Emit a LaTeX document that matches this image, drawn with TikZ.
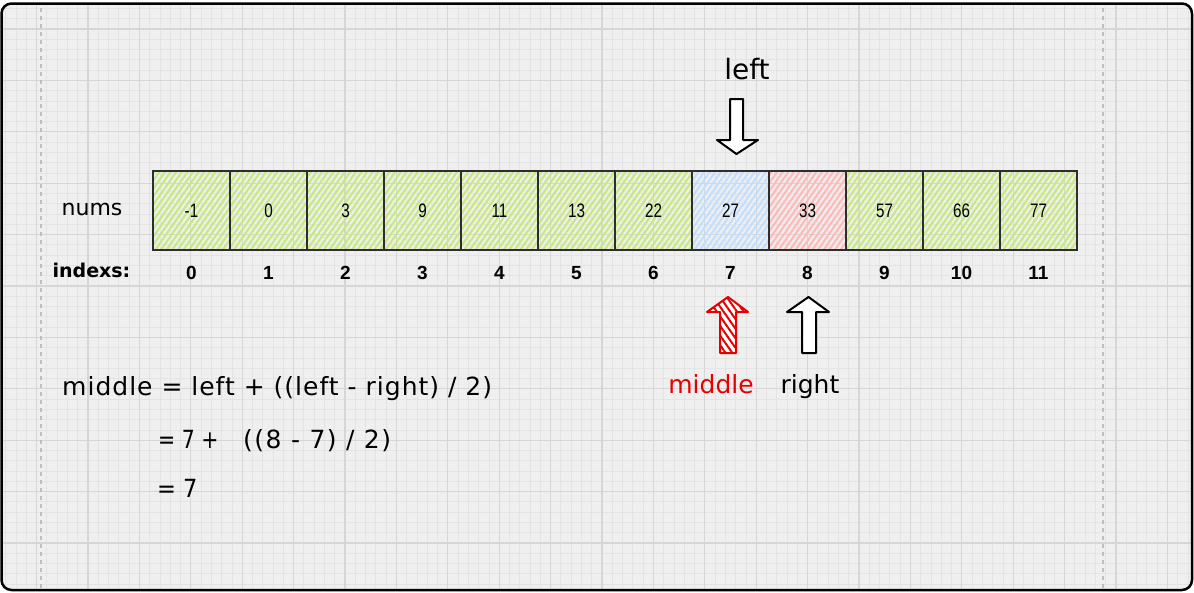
\documentclass[tikz,border=0pt]{standalone}
\usepackage{fontspec}
\setmainfont{Liberation Sans}
\newfontfamily\comic{DejaVu Sans}
\newfontfamily\comicA[LetterSpace=4]{DejaVu Sans}
\newfontfamily\comicB[LetterSpace=6]{DejaVu Sans}
\newfontfamily\narrowsf[FakeStretch=0.78]{Liberation Sans}
\usetikzlibrary{patterns.meta}
\definecolor{bgc}{RGB}{239,239,239}
\definecolor{minorc}{RGB}{228,228,228}
\definecolor{majorc}{RGB}{214,214,214}
\definecolor{pagec}{RGB}{190,190,190}
\definecolor{edgec}{RGB}{45,45,45}
\definecolor{gfill}{RGB}{198,234,125}
\definecolor{bfill}{RGB}{195,222,255}
\definecolor{rfill}{RGB}{255,185,185}
\definecolor{redc}{RGB}{230,0,0}
\tikzset{
  cell/.style={draw=edgec, line width=2.3pt, minimum width=77pt, minimum height=79pt,
    inner sep=0pt, outer sep=0pt, font=\narrowsf\fontsize{19.5}{22}\selectfont},
  hatchg/.style={pattern={Lines[angle=55,distance=4.6pt,line width=2.1pt]}, pattern color=gfill},
  hatchb/.style={pattern={Lines[angle=55,distance=4.6pt,line width=2.1pt]}, pattern color=bfill},
  hatchr/.style={pattern={Lines[angle=55,distance=4.6pt,line width=2.1pt]}, pattern color=rfill},
  idx/.style={inner sep=0pt, anchor=base, font=\bfseries\fontsize{19}{22}\selectfont},
  hand/.style={inner sep=0pt, font=\comic\fontsize{25}{30}\selectfont},
  blockarrow/.style={line width=2pt, line join=round}
}
\begin{document}
\begin{tikzpicture}[x=1pt,y=-1pt]
\useasboundingbox (0,0) rectangle (1194,592);
\fill[white] (0,0) rectangle (1194,592);
\fill[bgc, rounded corners=10pt] (1.5,3.5) rectangle (1192,590);
\begin{scope}
\clip[rounded corners=10pt] (1.5,3.5) rectangle (1192,590);
\foreach \k in {-9,...,108} {
  \pgfmathsetmacro\xx{88+10.28*\k}
  \draw[minorc, line width=0.8pt] (\xx,0) -- (\xx,592);
}
\foreach \k in {-3,...,57} {
  \pgfmathsetmacro\yy{29+10.28*\k}
  \draw[minorc, line width=0.8pt] (0,\yy) -- (1194,\yy);
}
\foreach \k in {-2,...,21} {
  \pgfmathsetmacro\xx{88+51.4*\k}
  \draw[majorc, line width=1.1pt] (\xx,0) -- (\xx,592);
}
\foreach \k in {-1,...,11} {
  \pgfmathsetmacro\yy{29+51.4*\k}
  \draw[majorc, line width=1.1pt] (0,\yy) -- (1194,\yy);
}
\draw[pagec, line width=1.2pt, dash pattern=on 4pt off 4pt] (41,0) -- (41,592);
\draw[pagec, line width=1.2pt, dash pattern=on 4pt off 4pt] (1103,0) -- (1103,592);
\end{scope}
\draw[black, line width=2.5pt, rounded corners=10pt] (1.5,3.5) rectangle (1192,590);

% cells
\foreach \v [count=\i from 0] in {-1,0,3,9,11,13,22,27,33,57,66,77} {
  \pgfmathsetmacro\cx{191.5+77*\i}
  \ifnum\i=7
    \node[cell, hatchb] (c\i) at (\cx,210.5) {\v};
  \else\ifnum\i=8
    \node[cell, hatchr] (c\i) at (\cx,210.5) {\v};
  \else
    \node[cell, hatchg] (c\i) at (\cx,210.5) {\v};
  \fi\fi
  \node[idx] (i\i) at (\cx,279) {\i};
}

\node[hand, anchor=base, font=\comic\fontsize{22}{26}\selectfont] (nums) at (92,215) {nums};
\node[hand, anchor=base, font=\comic\bfseries\fontsize{19}{22}\selectfont] (indexs) at (91.5,277) {indexs:};

% left arrow (down)
\node[hand, anchor=base, font=\comic\fontsize{28}{32}\selectfont] (leftlbl) at (747,79) {left};
\draw[blockarrow, fill=white] (730,99) -- (743,99) -- (743,140) -- (758,140) -- (736.5,154)
  -- (717,140) -- (730,140) -- cycle;

% middle arrow (up, red hatched)
\draw[blockarrow, draw=redc, preaction={fill=white},
  pattern={Lines[angle=-55,distance=5.5pt,line width=2pt]}, pattern color=redc]
  (720,353) -- (736,353) -- (736,312) -- (748,312) -- (728,297) -- (707,312) -- (720,312) -- cycle;
% right arrow (up)
\draw[blockarrow, fill=white] (802,353) -- (816,353) -- (816,312) -- (829,312) -- (808.5,297)
  -- (787,312) -- (802,312) -- cycle;

\node[hand, anchor=base, text=redc] (midlbl) at (711,393) {middle};
\node[hand, anchor=base] (rightlbl) at (810,393) {right};

% formula
\node[hand, anchor=base west, font=\comicA\fontsize{25}{30}\selectfont] (f1) at (62,395) {middle = left + ((left - right) / 2)};
\node[hand, anchor=base west] (f2a) at (158,448) {\scalebox{0.82}[1]{= 7 +}};
\node[hand, anchor=base west, font=\comicB\fontsize{25}{30}\selectfont] (f2b) at (243,448) {((8 - 7) / 2)};
\node[hand, anchor=base west] (f3) at (157,497) {\scalebox{0.9}[1]{= 7}};
\end{tikzpicture}
\end{document}
